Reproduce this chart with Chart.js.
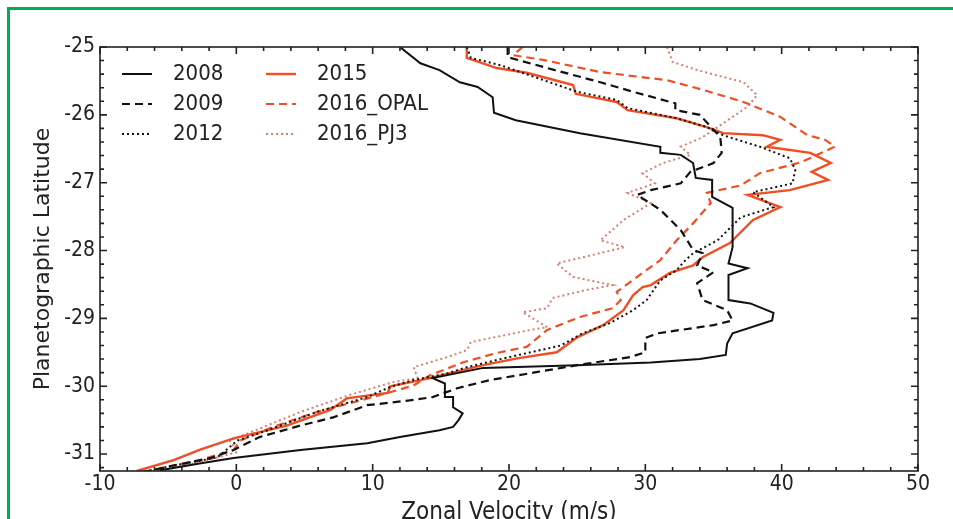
<!DOCTYPE html>
<html>
<head>
<meta charset="utf-8">
<script src="https://cdn.jsdelivr.net/npm/chart.js@4/dist/chart.umd.min.js"></script>
<style>
  html, body { margin: 0; padding: 0; background: #fff; }
  #wrap { position: relative; width: 953px; height: 519px; overflow: hidden; }
  #frame { position: absolute; left: 7px; top: 7px; width: 980px; height: 540px;
           border-left: 3px solid #00b050; border-top: 3px solid #00b050; pointer-events: none; }
</style>
</head>
<body>
<div id="wrap">
  <canvas id="profileChart" width="953" height="519"></canvas>
  <div id="frame"></div>
</div>
<script>
// zonal wind profiles: latitude (deg) and velocity (m/s) per epoch
let lat2008 = [-25.00, -25.24, -25.34, -25.52, -25.59, -25.74, -25.97, -26.08, -26.27, -26.47, -26.56, -26.59, -26.71, -26.93, -26.96, -27.21, -27.37, -27.95, -28.19, -28.26, -28.36, -28.73, -28.78, -28.92, -29.03, -29.22, -29.37, -29.54, -29.60, -29.65, -29.69, -29.73, -29.88, -29.96, -30.16, -30.16, -30.31, -30.40, -30.50, -30.60, -30.65, -30.75, -30.84, -30.94, -31.06, -31.14, -31.24];
let vel2008 = [12.0, 13.5, 14.9, 16.4, 17.7, 18.8, 18.9, 20.5, 25.2, 31.1, 31.1, 32.6, 33.5, 33.7, 34.9, 34.9, 36.4, 36.4, 36.1, 37.5, 36.1, 36.1, 37.7, 39.4, 39.3, 36.4, 36.0, 35.9, 34.0, 30.4, 25.0, 18.1, 14.4, 15.3, 15.3, 15.9, 15.9, 16.6, 16.3, 15.9, 14.9, 12.0, 9.6, 4.7, -0.2, -2.7, -5.6];

let lat2009 = [-25.00, -25.15, -25.31, -25.52, -25.66, -25.83, -25.93, -26.00, -26.33, -26.56, -26.71, -26.84, -27.01, -27.11, -27.18, -27.40, -27.70, -27.99, -28.04, -28.22, -28.32, -28.48, -28.73, -28.88, -29.03, -29.10, -29.22, -29.29, -29.50, -29.57, -29.69, -29.79, -29.91, -30.03, -30.16, -30.21, -30.28, -30.46, -30.58, -30.75, -30.94, -31.06, -31.19, -31.27];
let vel2009 = [19.9, 19.9, 22.8, 26.7, 29.1, 32.2, 32.2, 34.0, 35.5, 35.6, 35.0, 33.3, 32.6, 30.4, 29.4, 31.1, 32.6, 33.5, 34.2, 33.8, 35.0, 33.8, 34.2, 36.0, 36.4, 35.0, 30.9, 30.0, 30.0, 28.9, 25.0, 22.1, 18.6, 16.2, 14.4, 12.7, 9.6, 7.1, 4.7, 1.7, -0.2, -1.9, -5.1, -6.9];

let lat2012 = [-25.00, -25.16, -25.27, -25.66, -25.78, -25.90, -26.05, -26.18, -26.30, -26.47, -26.64, -26.81, -27.01, -27.14, -27.36, -27.51, -27.85, -28.04, -28.17, -28.29, -28.44, -28.73, -28.88, -29.07, -29.22, -29.40, -29.59, -29.72, -29.81, -29.91, -30.01, -30.16, -30.38, -30.65, -30.80, -31.05, -31.19, -31.27];
let vel2012 = [16.9, 17.2, 19.4, 25.0, 27.9, 28.7, 32.3, 34.5, 35.7, 38.4, 40.6, 41.0, 40.8, 37.9, 39.4, 37.0, 35.3, 33.5, 32.8, 32.3, 31.1, 30.1, 29.1, 27.4, 25.4, 23.8, 19.6, 16.9, 15.5, 13.0, 11.3, 9.6, 5.9, 2.3, 0.1, -1.4, -5.1, -6.9];

let lat2015 = [-25.00, -25.16, -25.31, -25.38, -25.56, -25.69, -25.81, -25.93, -26.05, -26.18, -26.27, -26.30, -26.37, -26.47, -26.56, -26.71, -26.84, -26.96, -27.11, -27.18, -27.36, -27.55, -27.89, -28.10, -28.22, -28.33, -28.51, -28.54, -28.66, -28.88, -29.10, -29.28, -29.50, -29.59, -29.69, -29.88, -30.00, -30.10, -30.18, -30.35, -30.58, -30.77, -30.94, -31.09, -31.25];
let vel2015 = [16.9, 16.9, 19.1, 21.3, 24.7, 24.9, 27.9, 28.7, 32.3, 34.5, 35.7, 38.6, 39.9, 38.9, 42.1, 43.6, 42.2, 43.4, 40.6, 37.5, 39.9, 37.9, 36.2, 34.2, 33.5, 31.8, 30.4, 29.8, 29.1, 28.4, 26.9, 25.0, 23.5, 20.6, 18.1, 14.2, 11.3, 11.1, 8.1, 6.9, 3.7, -0.2, -2.7, -4.6, -7.3];

let latOpal = [-25.00, -25.12, -25.19, -25.37, -25.49, -25.63, -25.81, -26.03, -26.30, -26.37, -26.47, -26.70, -26.86, -27.04, -27.15, -27.30, -27.60, -27.85, -28.14, -28.33, -28.61, -28.73, -28.85, -28.98, -29.17, -29.42, -29.51, -29.65, -29.84, -29.99, -30.10, -30.21, -30.38, -30.60, -30.80, -30.94, -31.09, -31.19, -31.27];
let velOpal = [21.0, 20.3, 22.5, 26.7, 31.6, 34.2, 37.2, 39.9, 41.9, 43.2, 43.9, 41.4, 38.4, 37.0, 34.5, 34.8, 33.5, 32.3, 31.1, 29.8, 27.9, 28.2, 27.6, 25.2, 22.8, 21.3, 19.1, 16.6, 14.2, 13.0, 11.1, 9.1, 5.9, 2.7, 0.3, -0.2, -2.7, -5.1, -6.3];

let latPj3 = [-25.00, -25.22, -25.34, -25.52, -25.71, -25.88, -26.03, -26.18, -26.33, -26.47, -26.59, -26.71, -26.86, -27.01, -27.15, -27.30, -27.55, -27.85, -27.95, -28.11, -28.19, -28.39, -28.51, -28.58, -28.70, -28.85, -28.91, -29.13, -29.17, -29.35, -29.47, -29.57, -29.72, -29.88, -29.94, -30.13, -30.38, -30.65, -30.80, -30.97, -31.12, -31.25];
let velPj3 = [31.6, 32.0, 33.8, 37.2, 38.2, 37.5, 36.4, 35.3, 34.2, 32.6, 33.3, 31.3, 29.8, 30.7, 28.7, 30.4, 28.4, 26.7, 28.5, 25.2, 23.5, 24.7, 27.6, 25.7, 23.2, 22.8, 21.0, 22.8, 21.6, 17.2, 16.9, 15.5, 13.0, 13.3, 11.5, 8.3, 4.7, 1.4, -0.5, 0.1, -2.7, -5.6];

let xTicks = [-10, 0, 10, 20, 30, 40, 50];
let yTicks = [-25, -26, -27, -28, -29, -30, -31];

let condensed = "'DejaVu Sans Condensed', 'DejaVu Sans', sans-serif";
let orange = '#f04e23';
let salmon = 'rgb(214, 128, 112)';

let toPoints = function (lat, vel) {
    return lat.map((v, i) => ({ x: vel[i], y: v }));
};

let profile = function (label, lat, vel, color, dash, width) {
    return {
        label: label,
        data: toPoints(lat, vel),
        showLine: true,
        borderColor: color,
        backgroundColor: color,
        borderWidth: width,
        borderDash: dash,
        borderCapStyle: 'butt',
        pointRadius: 0,
        tension: 0
    };
};

// inward ticks on all four sides plus the box, like a matplotlib frame
let frameTicks = {
    id: 'frameTicks',
    afterDatasetsDraw(chart) {
        let ctx = chart.ctx;
        let a = chart.chartArea;
        let sx = chart.scales.x, sy = chart.scales.y;
        ctx.save();
        ctx.strokeStyle = '#222';
        ctx.lineWidth = 1.6;
        ctx.strokeRect(a.left, a.top, a.right - a.left, a.bottom - a.top);
        ctx.beginPath();
        for (let v = -10; v <= 50; v += 2) {
            let px = sx.getPixelForValue(v);
            let len = v % 10 === 0 ? 7 : 4;
            ctx.moveTo(px, a.bottom); ctx.lineTo(px, a.bottom - len);
            ctx.moveTo(px, a.top); ctx.lineTo(px, a.top + len);
        }
        for (let k = 0; k <= 31; k++) {
            let v = -25 - k * 0.2;
            if (v < -31.25) break;
            let py = sy.getPixelForValue(v);
            let len = k % 5 === 0 ? 7 : 4;
            ctx.moveTo(a.left, py); ctx.lineTo(a.left + len, py);
            ctx.moveTo(a.right, py); ctx.lineTo(a.right - len, py);
        }
        ctx.stroke();
        ctx.restore();
    }
};

// two-column legend in the upper left of the plot
let columnLegend = {
    id: 'columnLegend',
    afterDraw(chart) {
        let ctx = chart.ctx;
        let a = chart.chartArea;
        ctx.save();
        ctx.font = '22px ' + condensed;
        ctx.textBaseline = 'middle';
        ctx.textAlign = 'left';
        chart.data.datasets.forEach((ds, i) => {
            let col = Math.floor(i / 3), row = i % 3;
            let x0 = a.left + 22 + col * 144;
            let y = a.top + 27 + row * 30;
            ctx.beginPath();
            ctx.strokeStyle = ds.borderColor;
            ctx.lineWidth = ds.borderWidth;
            ctx.setLineDash(ds.borderDash || []);
            ctx.moveTo(x0, y);
            ctx.lineTo(x0 + 30, y);
            ctx.stroke();
            ctx.setLineDash([]);
            ctx.fillStyle = '#222';
            ctx.fillText(ds.label, x0 + 51, y);
        });
        ctx.restore();
    }
};

let ctx = document.getElementById('profileChart').getContext('2d');

window.profileChart = new Chart(ctx, {
    type: 'scatter',
    data: {
        datasets: [
            profile('2008', lat2008, vel2008, '#111', [], 2),
            profile('2009', lat2009, vel2009, '#111', [8, 5], 2.2),
            profile('2012', lat2012, vel2012, '#111', [2, 3], 2),
            profile('2015', lat2015, vel2015, orange, [], 2.4),
            profile('2016_OPAL', latOpal, velOpal, orange, [8, 5], 2.2),
            profile('2016_PJ3', latPj3, velPj3, salmon, [2, 3], 2)
        ]
    },
    options: {
        responsive: false,
        animation: false,
        devicePixelRatio: 1,
        layout: { padding: { top: 47, right: 35, left: 0, bottom: 0 } },
        plugins: {
            legend: { display: false },
            tooltip: { enabled: false }
        },
        scales: {
            x: {
                type: 'linear',
                min: -10,
                max: 50,
                afterFit(scale) {
                    scale.height = 48;
                    scale.paddingLeft = 0;
                    scale.paddingRight = 0;
                },
                afterBuildTicks(scale) {
                    scale.ticks = xTicks.map(v => ({ value: v }));
                },
                grid: { display: false, drawTicks: false },
                border: { display: false },
                ticks: {
                    color: '#222',
                    padding: 1,
                    maxRotation: 0,
                    font: { family: condensed, size: 21 },
                    callback: v => String(v)
                },
                title: {
                    display: true,
                    text: 'Zonal Velocity (m/s)',
                    color: '#222',
                    padding: 0,
                    font: { family: condensed, size: 24, lineHeight: 0.5 }
                }
            },
            y: {
                type: 'linear',
                min: -31.25,
                max: -25,
                afterFit(scale) {
                    scale.width = 100;
                    scale.paddingTop = 0;
                    scale.paddingBottom = 0;
                },
                afterBuildTicks(scale) {
                    scale.ticks = yTicks.map(v => ({ value: v }));
                },
                grid: { display: false, drawTicks: false },
                border: { display: false },
                ticks: {
                    color: '#222',
                    padding: 5,
                    font: { family: condensed, size: 21 },
                    callback: v => String(v)
                },
                title: {
                    display: true,
                    text: 'Planetographic Latitude',
                    color: '#222',
                    padding: { top: 30, bottom: 0 },
                    font: { family: "'DejaVu Sans', sans-serif", size: 22, lineHeight: 1.2 }
                }
            }
        }
    },
    plugins: [frameTicks, columnLegend]
});
</script>
</body>
</html>
